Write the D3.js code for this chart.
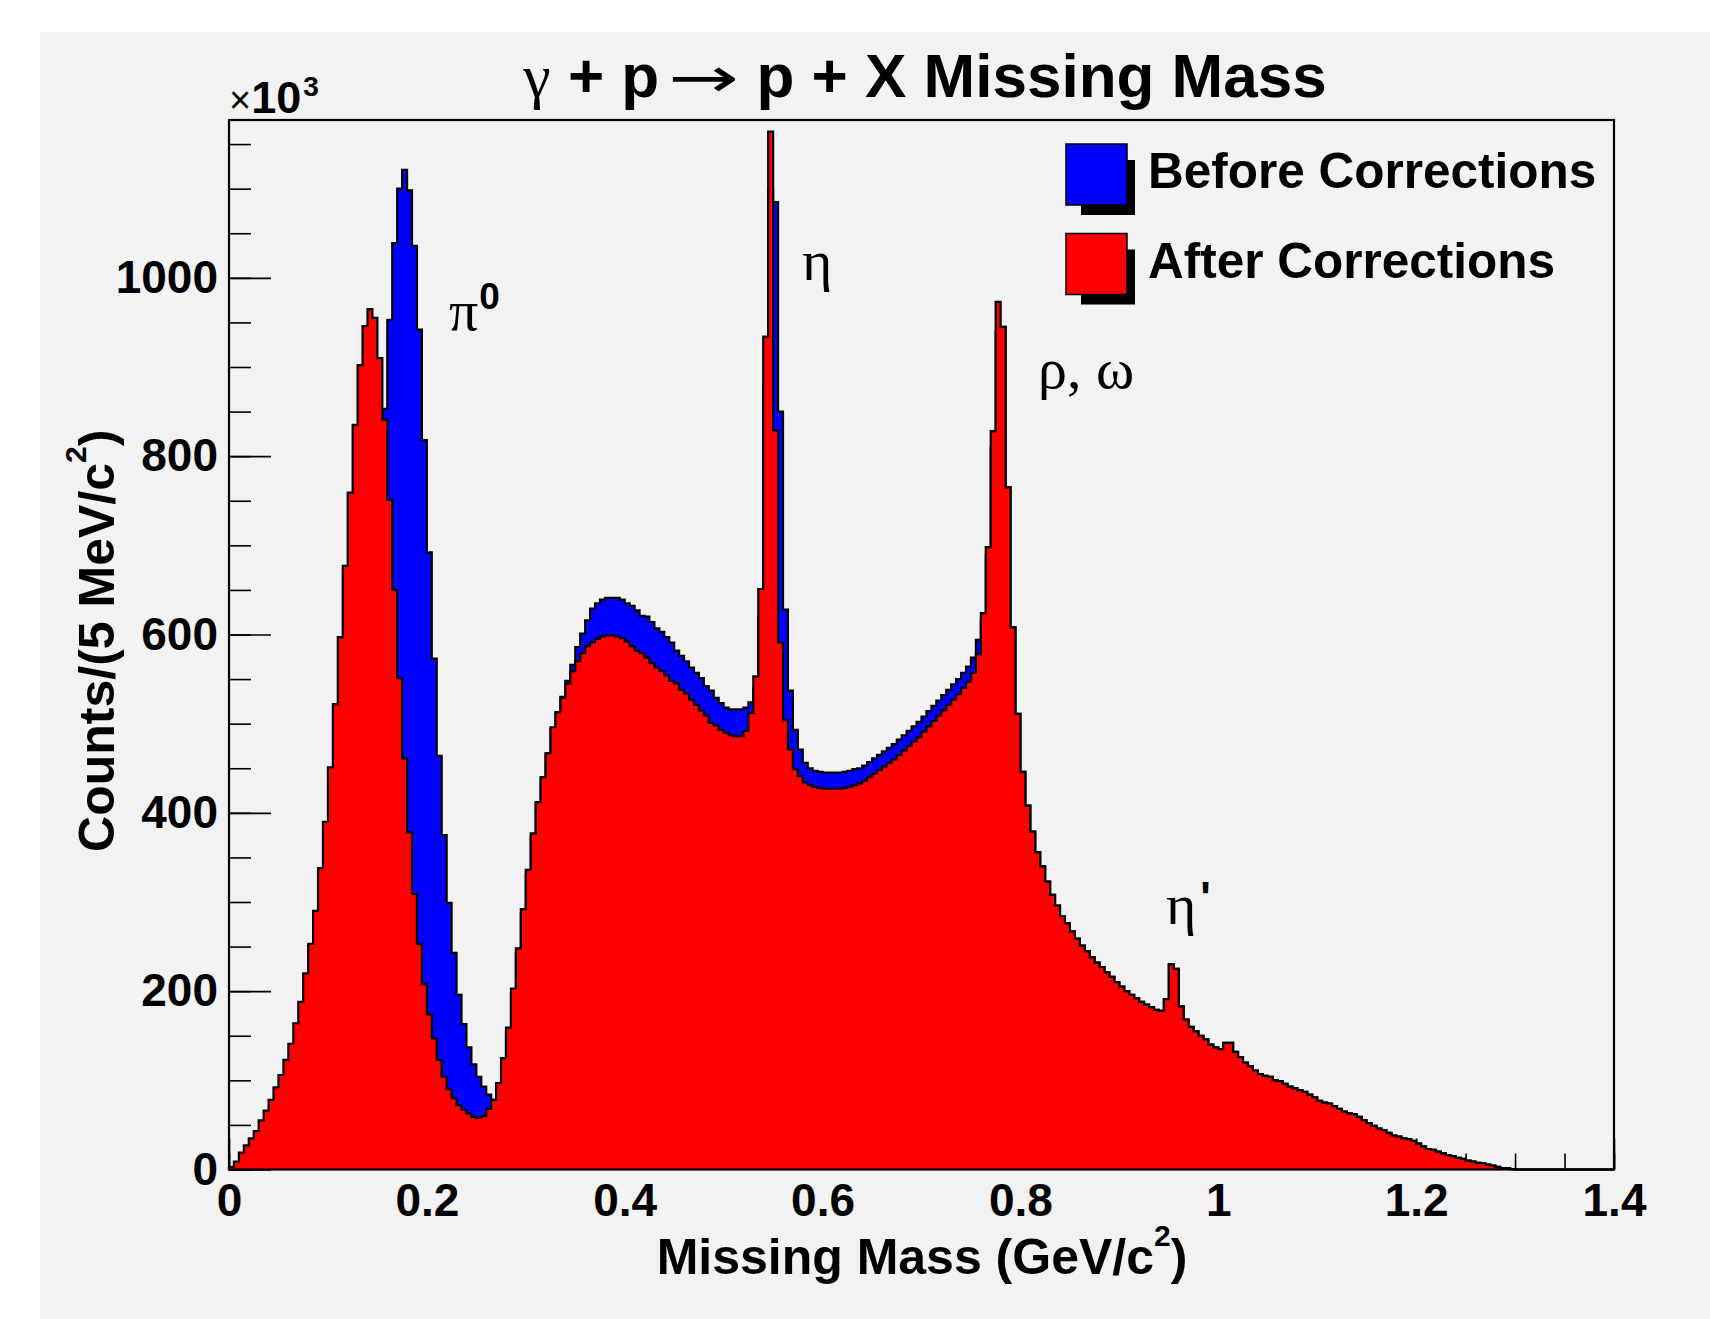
<!DOCTYPE html>
<html><head><meta charset="utf-8">
<script src="https://cdn.jsdelivr.net/npm/d3@7"></script>
<style>html,body{margin:0;padding:0;background:#fff;} svg{display:block;}</style>
</head><body>
<svg id="chart" width="1710" height="1319"></svg>
<script>
// ---------------- data ----------------
const binWidth = 0.005;            // GeV per bin (5 MeV)
const xDomain = [0, 1.4];
const yDomain = [0, 1177];         // counts in units of 10^3
const xTicks = [0, 0.2, 0.4, 0.6, 0.8, 1, 1.2, 1.4];
const xTickLabels = ["0", "0.2", "0.4", "0.6", "0.8", "1", "1.2", "1.4"];
const yTicks = [0, 200, 400, 600, 800, 1000];
const yTickLabels = ["0", "200", "400", "600", "800", "1000"];
const xMinorStep = 0.05;
const yMinorStep = 50;
const seriesNames = ["Before Corrections", "After Corrections"];
const seriesColors = ["#0000ff", "#ff0000"];

// After corrections (x10^3 counts per 5 MeV bin), bins from 0 to 1.4 GeV
const afterCounts = [
  3, 9, 19, 27, 35, 43, 55, 66, 78, 92,
  106, 123, 141, 164, 188, 220, 253, 290, 338, 390,
  451, 522, 597, 677, 759, 835, 902, 946, 965, 955,
  910, 841, 751, 650, 551, 461, 378, 309, 253, 208,
  174, 147, 123, 104, 90, 80, 72, 67, 63, 59,
  58, 60, 68, 78, 97, 125, 159, 203, 248, 292,
  336, 377, 412, 440, 467, 496, 513, 529, 545, 559,
  570, 579, 587, 591, 595, 598, 599, 599, 598, 596,
  592, 587, 582, 579, 574, 568, 563, 559, 554, 548,
  545, 538, 534, 527, 521, 515, 509, 501, 498, 493,
  490, 487, 486, 486, 492, 512, 553, 651, 934, 1164,
  829, 591, 504, 471, 449, 441, 434, 431, 429, 428,
  427, 427, 427, 427, 428, 429, 431, 433, 436, 440,
  444, 448, 452, 456, 460, 465, 470, 475, 480, 485,
  491, 497, 503, 509, 515, 521, 527, 533, 540, 547,
  557, 578, 624, 698, 828, 973, 945, 765, 608, 511,
  446, 408, 379, 356, 340, 323, 308, 296, 284, 276,
  267, 259, 251, 245, 238, 232, 227, 221, 216, 210,
  205, 200, 196, 192, 188, 185, 182, 179, 178, 191,
  230, 225, 183, 168, 160, 155, 150, 146, 140, 137,
  135, 142, 142, 132, 126, 120, 116, 111, 107, 105,
  104, 100, 99, 96, 93, 91, 89, 87, 84, 81,
  77, 75, 74, 71, 68, 65, 63, 62, 59, 55,
  52, 49, 46, 44, 41, 38, 37, 35, 34, 32,
  29, 26, 23, 22, 20, 18, 16, 15, 13, 12,
  10, 9, 7.5, 7, 5.5, 4.5, 3, 1.5, 1.5, 0.5,
  0, 0, 0, 0, 0, 0, 0, 0, 0, 0,
  0, 0, 0, 0, 0, 0, 0, 0, 0, 0
];

// Before corrections (x10^3 counts per 5 MeV bin)
const beforeCounts = [
  1, 4, 8, 12, 17, 22, 28, 34, 41, 48,
  56, 65, 75, 87, 100, 115, 132, 152, 175, 202,
  232, 268, 310, 360, 418, 485, 560, 640, 720, 785,
  830, 853, 953, 1039, 1100, 1121, 1098, 1036, 942, 818,
  692, 573, 464, 375, 299, 243, 196, 163, 137, 118,
  104, 93, 84, 78, 95, 122, 155, 198, 243, 287,
  331, 373, 410, 438, 465, 494, 512, 530, 548, 566,
  586, 601, 616, 629, 635, 639, 641, 641, 641, 639,
  635, 632, 627, 621, 620, 614, 607, 603, 597, 591,
  582, 576, 570, 563, 557, 551, 542, 537, 529, 523,
  518, 516, 516, 516, 518, 524, 540, 620, 880, 1100,
  1085, 850, 628, 537, 493, 471, 456, 450, 447, 446,
  445, 445, 445, 445, 446, 447, 449, 450, 453, 457,
  461, 465, 469, 473, 477, 482, 487, 492, 497, 502,
  508, 514, 520, 526, 532, 538, 544, 550, 557, 564,
  574, 594, 615, 690, 810, 940, 945, 765, 608, 511,
  446, 408, 379, 356, 340, 323, 308, 296, 284, 276,
  267, 259, 251, 245, 238, 232, 227, 221, 216, 210,
  205, 200, 196, 192, 188, 185, 182, 179, 178, 191,
  230, 225, 183, 168, 160, 155, 150, 146, 140, 137,
  135, 142, 142, 132, 126, 120, 116, 111, 107, 105,
  104, 100, 99, 96, 93, 91, 89, 87, 84, 81,
  77, 75, 74, 71, 68, 65, 63, 62, 59, 55,
  52, 49, 46, 44, 41, 38, 37, 35, 34, 32,
  29, 26, 23, 22, 20, 18, 16, 15, 13, 12,
  10, 9, 7.5, 7, 5.5, 4.5, 3, 1.5, 1.5, 0.5,
  0, 0, 0, 0, 0, 0, 0, 0, 0, 0,
  0, 0, 0, 0, 0, 0, 0, 0, 0, 0
];

// peak annotations, positioned in data coordinates (GeV, x10^3)
const peakNames = ["π", "η", "ρ, ω", "η"];
const peakSups = ["0", "", "", "'"];
const peakMass = [0.2224, 0.5792, 0.8178, 0.9471];
const peakLevel = [941.5, 997.6, 876.6, 275.4];

// ---------------- drawing ----------------
const SANS = "'Liberation Sans', Arial, Helvetica, sans-serif";
const SERIF = "'Liberation Serif', 'Times New Roman', serif";
const svg = d3.select("#chart");
const frame = {x0: 229, x1: 1614, y0: 120, y1: 1169.5};

svg.append("rect").attr("x", 40).attr("y", 32).attr("width", 1670).attr("height", 1287)
  .attr("fill", "#f2f2f2");

const x = d3.scaleLinear().domain(xDomain).range([frame.x0, frame.x1]);
const y = d3.scaleLinear().domain(yDomain).range([frame.y1, frame.y0]);

const area = d3.area().x(d => x(d[0])).y0(y(0)).y1(d => y(d[1])).curve(d3.curveStepAfter);
const line = d3.line().x(d => x(d[0])).y(d => y(d[1])).curve(d3.curveStepAfter);

function drawHist(counts, color) {
  const pts = counts.map((v, i) => [i * binWidth, v]);
  pts.push([counts.length * binWidth, counts[counts.length - 1]]);
  svg.append("path").attr("d", area(pts)).attr("fill", color);
  const outline = [[0, 0], ...pts, [counts.length * binWidth, 0]];
  svg.append("path").attr("d", line(outline)).attr("fill", "none")
    .attr("stroke", "#000").attr("stroke-width", 2.2).attr("stroke-linejoin", "miter");
}

// before histogram
drawHist(beforeCounts, seriesColors[0]);

// axes (ticks drawn under the second histogram, as in the original)
const yMinor = d3.range(0, yDomain[1], yMinorStep);
const xMinor = d3.range(0, 1.4 + 1e-9, xMinorStep);

const gyMinor = svg.append("g").attr("transform", `translate(${frame.x0},0)`)
  .call(d3.axisLeft(y).tickValues(yMinor).tickSize(-22).tickFormat(""));
const gy = svg.append("g").attr("transform", `translate(${frame.x0},0)`)
  .call(d3.axisLeft(y).tickValues(yTicks).tickSize(-42).tickPadding(11)
    .tickFormat((d, i) => yTickLabels[i]));
const gxMinor = svg.append("g").attr("transform", `translate(0,${frame.y1})`)
  .call(d3.axisBottom(x).tickValues(xMinor).tickSize(-16).tickFormat(""));
const gx = svg.append("g").attr("transform", `translate(0,${frame.y1})`)
  .call(d3.axisBottom(x).tickValues(xTicks).tickSize(-31).tickPadding(14)
    .tickFormat((d, i) => xTickLabels[i]));

[gyMinor, gy, gxMinor, gx].forEach(g => {
  g.select(".domain").remove();
  g.selectAll(".tick line").attr("stroke", "#000").attr("stroke-width", 1.6);
  g.selectAll("text").attr("font-family", SANS).attr("font-weight", "bold")
    .attr("font-size", 46).attr("fill", "#000");
});

// after histogram
drawHist(afterCounts, seriesColors[1]);

// frame
svg.append("rect").attr("x", frame.x0).attr("y", frame.y0)
  .attr("width", frame.x1 - frame.x0).attr("height", frame.y1 - frame.y0)
  .attr("fill", "none").attr("stroke", "#000").attr("stroke-width", 2.2);

// title
const title = svg.append("text").attr("x", 925).attr("y", 97).attr("text-anchor", "middle")
  .attr("font-family", SANS).attr("font-weight", "bold").attr("font-size", 62).attr("fill", "#000");
title.append("tspan").attr("font-family", SERIF).attr("font-weight", "normal").text("γ");
title.append("tspan").text(" + p");
title.append("tspan").attr("font-family", "'DejaVu Sans', sans-serif").attr("font-weight", "normal")
  .attr("font-size", 56).attr("dx", 9)
  .attr("textLength", 71).attr("lengthAdjust", "spacingAndGlyphs").text("→");
title.append("tspan").text(" p + X Missing Mass");

// x10^3 multiplier
const mult = svg.append("text").attr("x", 229).attr("y", 113)
  .attr("font-family", SANS).attr("font-weight", "bold").attr("font-size", 45).attr("fill", "#000");
mult.append("tspan").attr("font-weight", "normal").attr("font-size", 38).text("×");
mult.append("tspan").text("10");
mult.append("tspan").attr("font-size", 28).attr("dx", 2).attr("dy", -17).text("3");

// x axis title
const xt = svg.append("text").attr("x", 922).attr("y", 1274).attr("text-anchor", "middle")
  .attr("font-family", SANS).attr("font-weight", "bold").attr("font-size", 50).attr("fill", "#000");
xt.append("tspan").text("Missing Mass (GeV/c");
xt.append("tspan").attr("font-size", 30).attr("dy", -28).text("2");
xt.append("tspan").attr("dy", 28).text(")");

// y axis title
const yt = svg.append("text").attr("transform", `translate(114,${(frame.y0 + frame.y1) / 2 - 4}) rotate(-90)`)
  .attr("text-anchor", "middle")
  .attr("font-family", SANS).attr("font-weight", "bold").attr("font-size", 50).attr("fill", "#000");
yt.append("tspan").text("Counts/(5 MeV/c");
yt.append("tspan").attr("font-size", 30).attr("dy", -28).text("2");
yt.append("tspan").attr("dy", 28).text(")");

// peak labels
peakNames.forEach((name, i) => {
  const t = svg.append("text").attr("x", x(peakMass[i])).attr("y", y(peakLevel[i]))
    .attr("font-family", SERIF).attr("font-size", 58).attr("fill", "#000");
  t.append("tspan").text(name);
  if (peakSups[i]) {
    t.append("tspan").attr("font-family", SANS).attr("font-weight", "bold")
      .attr("font-size", peakSups[i] === "0" ? 37 : 44)
      .attr("dx", peakSups[i] === "0" ? 1 : 4)
      .attr("dy", peakSups[i] === "0" ? -21 : -11).text(peakSups[i]);
  }
});

// legend
seriesNames.forEach((name, i) => {
  const sx = 1066, sy = 144 + i * 89.5, s = 61;
  svg.append("rect").attr("x", sx + 15).attr("y", sy + 16).attr("width", s - 7).attr("height", s - 6)
    .attr("fill", "#000");
  svg.append("rect").attr("x", sx).attr("y", sy).attr("width", s).attr("height", s)
    .attr("fill", seriesColors[i]).attr("stroke", "#000").attr("stroke-width", 1.5);
  svg.append("text").attr("x", 1148).attr("y", 188 + i * 89.5)
    .attr("font-family", SANS).attr("font-weight", "bold").attr("font-size", 49.5)
    .attr("fill", "#000").text(name);
});
</script>
</body></html>
